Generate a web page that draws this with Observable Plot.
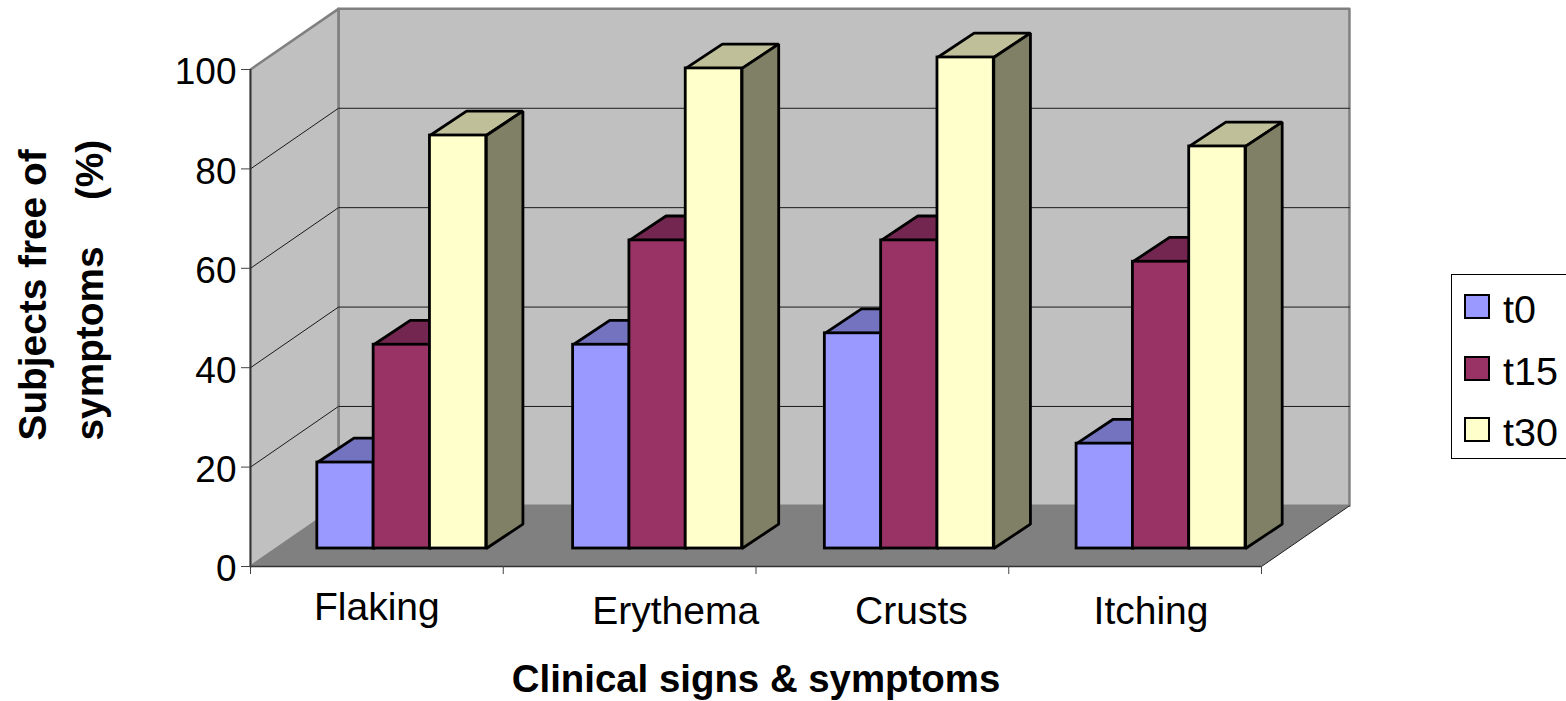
<!DOCTYPE html>
<html>
<head>
<meta charset="utf-8">
<script src="https://cdn.jsdelivr.net/npm/d3@7"></script>
<script src="https://cdn.jsdelivr.net/npm/@observablehq/plot@0.6"></script>
<style>
  html, body { margin: 0; padding: 0; background: #fff; overflow: hidden; }
  #chart { position: relative; width: 1566px; height: 701px; font-family: "Liberation Sans", Arial, sans-serif; }
  #legend { position: absolute; left: 1451px; top: 274px; width: 115px; height: 185px; box-sizing: border-box;
            border: 1px solid #000; border-right: none; background: #fff; }
  .key { position: absolute; left: 12px; display: flex; align-items: center; font-size: 39.5px; line-height: 38px; color: #000; }
  .key i { display: block; width: 22px; height: 21px; border: 2px solid #000; margin-right: 13px; }
  .key span { position: relative; top: 3px; }
</style>
</head>
<body>
<div id="chart"></div>
<script>
// Data
const categories = ["Flaking", "Erythema", "Crusts", "Itching"];
const seriesNames = ["t0", "t15", "t30"];
const t0Values = [17.3, 41, 43.3, 21.1];
const t15Values = [41, 62, 62, 57.7];
const t30Values = [83.1, 96.6, 98.8, 80.9];
const yTicks = [0, 20, 40, 60, 80, 100];
const seriesValues = [t0Values, t15Values, t30Values];
const frontColors = ["#9999ff", "#993366", "#ffffcc"];
const topColors = ["#7373bf", "#732650", "#bfbf99"];
const sideColors = ["#4c4c80", "#4c1a33", "#808066"];

// 3-D projection expressed in data units (categories on x, percent on y)
const wallDx = 0.348, wallDy = 12.2;
const floorInset = 0.3;
const groupStart = 0.16, barWidth = 0.2228;
const groupNudge = [0, 0.012, 0.008, 0.004];
const barDx = 0.145, barDy = 4.9;
const labelNudge = [0, 0.182, 0.115, 0.063];
const labelDrop = [8.25, 9.05, 9.05, 9.05];
const nCat = categories.length, yMax = 100;

const poly = (points) => points.map(([x, y]) => ({x, y}));
const backWall = poly([[wallDx, wallDy], [nCat + wallDx, wallDy], [nCat + wallDx, yMax + wallDy], [wallDx, yMax + wallDy]]);
const leftWall = poly([[0, 0], [wallDx, wallDy], [wallDx, yMax + wallDy], [0, yMax]]);
const floor = poly([[0, 0], [nCat, 0], [nCat + wallDx, wallDy], [wallDx, wallDy]]);
const gridTicks = yTicks.slice(1);
const gridDiag = gridTicks.flatMap((t) => [{t, x: 0, y: t}, {t, x: wallDx, y: t + wallDy}, {t, x: nCat + wallDx, y: t + wallDy}]);

const fx = floorInset * wallDx, fy = floorInset * 12.07;
function barFaces(si) {
  return categories.map((c, ci) => {
    const x1 = ci + groupStart + groupNudge[ci] + si * barWidth + fx, x2 = x1 + barWidth;
    const v = seriesValues[si][ci] + fy;
    return {
      x1, x2, y1: fy, y2: v,
      top: poly([[x1, v], [x2, v], [x2 + barDx, v + barDy], [x1 + barDx, v + barDy]]).map((p) => ({...p, c})),
      side: poly([[x2, fy], [x2 + barDx, fy + barDy], [x2 + barDx, v + barDy], [x2, v]]).map((p) => ({...p, c}))
    };
  });
}

const faceOpts = {x: "x", y: "y", z: "c", curve: "linear-closed", stroke: "#000", strokeWidth: 2.8, strokeLinejoin: "miter"};
const barMarks = seriesNames.flatMap((name, si) => {
  const faces = barFaces(si);
  return [
    Plot.line(faces.flatMap((f) => f.top), {...faceOpts, fill: topColors[si]}),
    Plot.line(faces.flatMap((f) => f.side), {...faceOpts, fill: sideColors[si]}),
    Plot.rect(faces, {x1: "x1", x2: "x2", y1: "y1", y2: "y2", fill: frontColors[si], stroke: "#000", strokeWidth: 2.8})
  ];
});

const fontFamily = '"Liberation Sans", Arial, sans-serif';
const chart = Plot.plot({
  width: 1566,
  height: 701,
  marginLeft: 250,
  marginRight: 305,
  marginTop: 69,
  marginBottom: 135,
  style: {fontFamily, background: "transparent", overflow: "visible"},
  x: {domain: [0, nCat]},
  y: {domain: [0, yMax]},
  marks: [
    Plot.line(backWall, {x: "x", y: "y", curve: "linear-closed", fill: "#c0c0c0", stroke: "#808080", strokeWidth: 2.5}),
    Plot.line(leftWall, {x: "x", y: "y", curve: "linear-closed", fill: "#c0c0c0", stroke: "#808080", strokeWidth: 2.5}),
    Plot.line(floor, {x: "x", y: "y", curve: "linear-closed", fill: "#808080"}),
    Plot.line(gridDiag, {x: "x", y: "y", z: "t", stroke: (d) => d.t === 100 ? "none" : "#1a1a1a", strokeWidth: 1}),
    Plot.line(poly([[nCat, 0], [nCat + wallDx, wallDy]]), {x: "x", y: "y", stroke: "#222", strokeWidth: 1}),
    ...barMarks,
    Plot.ruleX([0], {stroke: "#333", strokeWidth: 1.5}),
    Plot.ruleY([0], {stroke: "#333", strokeWidth: 1.5}),
    Plot.axisY({ticks: yTicks, tickSize: 9, tickFormat: () => "", label: null, stroke: "#444"}),
    Plot.text(yTicks, {x: 0, y: (d) => d, dx: -14, dy: 3, text: (d) => String(d), textAnchor: "end", fontSize: 37, fill: "#000"}),
    Plot.axisX({ticks: d3.range(nCat + 1), tickSize: 8, tickFormat: () => "", label: null, stroke: "#444"}),
    Plot.text(categories, {x: (d, i) => i + 0.5 + labelNudge[i], y: (d, i) => -labelDrop[i], lineAnchor: "middle", text: (d) => d, fontSize: 39, fill: "#000"}),
    Plot.text(["Clinical signs & symptoms"], {frameAnchor: "bottom", lineAnchor: "middle", dy: 113, fontSize: 38.4, fontWeight: "bold", fill: "#000"}),
    Plot.text(["Subjects free of"], {frameAnchor: "bottom-left", lineAnchor: "middle", dx: -217, dy: -126, rotate: -90, textAnchor: "start", fontSize: 38.8, fontWeight: "bold", fill: "#000"}),
    Plot.text(["symptoms\u00a0\u00a0\u00a0\u00a0\u200a(%)"], {frameAnchor: "bottom-left", lineAnchor: "middle", dx: -160, dy: -126, rotate: -90, textAnchor: "start", fontSize: 38.8, fontWeight: "bold", fill: "#000"})
  ]
});

const root = document.getElementById("chart");
root.appendChild(chart);
const legend = document.createElement("div");
legend.id = "legend";
const keyTops = [12, 74, 135];
seriesNames.forEach((name, i) => {
  const row = document.createElement("div");
  row.className = "key";
  row.style.top = keyTops[i] + "px";
  const sw = document.createElement("i");
  sw.style.background = frontColors[i];
  row.appendChild(sw);
  const label = document.createElement("span");
  label.textContent = name;
  row.appendChild(label);
  legend.appendChild(row);
});
root.appendChild(legend);
</script>
</body>
</html>
